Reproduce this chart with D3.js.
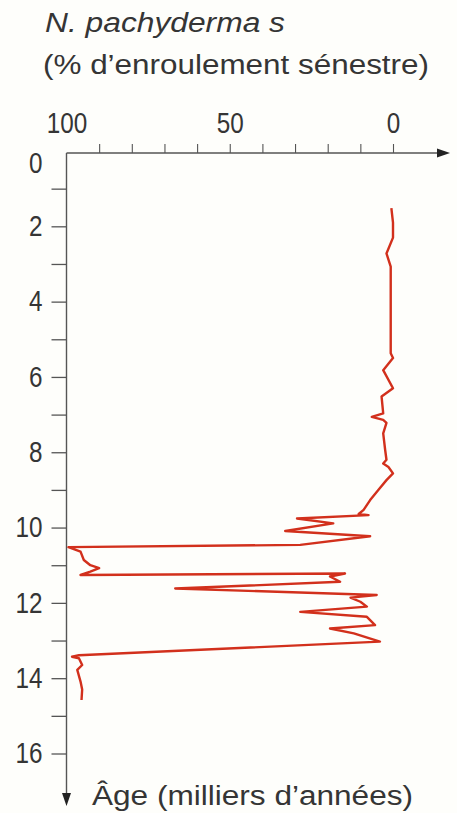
<!DOCTYPE html>
<html>
<head>
<meta charset="utf-8">
<script src="https://cdn.jsdelivr.net/npm/d3@7"></script>
<style>
  html, body { margin: 0; padding: 0; background: #fefefb; }
  svg { display: block; }
  text { font-family: "Liberation Sans Narrow", "Liberation Sans", Arial, sans-serif; fill: #353535; }
</style>
</head>
<body>
<div id="chart"></div>
<script>
// Age (thousands of years) of each sample down the core
const ages = [
  1.52, 1.90, 2.30, 2.72, 3.07, 5.37, 5.50, 5.82, 6.30, 6.52,
  6.97, 7.06, 7.14, 7.22, 7.50, 7.94, 8.20, 8.30, 8.39, 8.56,
  8.74, 9.00, 9.27, 9.53, 9.64, 9.67, 9.76, 9.89, 10.09, 10.23,
  10.46, 10.52, 10.64, 10.86, 11.00, 11.08, 11.17, 11.26, 11.22, 11.30,
  11.44, 11.62, 11.79, 11.86, 11.97, 12.10, 12.24, 12.37, 12.59, 12.68,
  12.81, 13.03, 13.39, 13.43, 13.47, 13.65, 13.78, 14.09, 14.30, 14.58
];
// N. pachyderma sinistral coiling (%) for each sample
const sinistralPct = [
  0.5, 0, 0, 2, 0.7, 0.7, 0, 3, 0, 3.5,
  3, 6.5, 3, 2, 3, 2.4, 2, 3, 1.4, 0,
  2, 4.5, 7, 9, 10.5, 7.5, 29.4, 18.3, 33, 7,
  28.4, 99.4, 95.7, 94.7, 92.7, 90, 92.7, 95.7, 14.7, 19.3,
  16.2, 66.7, 5, 13, 10, 8, 28.4, 8, 5.5, 19.3,
  12, 4, 96.2, 98.3, 96.2, 95.2, 96.7, 95.7, 95.2, 95.4
];
const pctTicks = [90, 80, 70, 60, 50, 40, 30, 20, 10, 0];
const pctLabels = [100, 50, 0];
const ageTicks = d3.range(0, 17);
const ageLabels = [0, 2, 4, 6, 8, 10, 12, 14, 16];

const W = 457, H = 813;
const svg = d3.select("#chart").append("svg").attr("width", W).attr("height", H);

const x = d3.scaleLinear().domain([100, 0]).range([66.5, 393]);
const y = d3.scaleLinear().domain([0, 16]).range([151, 753.5]);

const axisColor = "#555";
const digitW = 13.5; // condensed digit width for the tick labels

// Title
svg.append("text").attr("x", 45).attr("y", 32)
  .attr("font-size", 27).attr("font-style", "italic")
  .attr("textLength", 240).attr("lengthAdjust", "spacingAndGlyphs")
  .text("N. pachyderma s");
svg.append("text").attr("x", 43).attr("y", 74)
  .attr("font-size", 27)
  .attr("textLength", 386).attr("lengthAdjust", "spacingAndGlyphs")
  .text("(% d’enroulement sénestre)");

// Top axis (percent, reversed)
const axisY0 = 153;
const gx = svg.append("g").attr("transform", `translate(0,${axisY0})`)
  .call(d3.axisTop(x).tickValues(pctTicks.concat([100])).tickSize(9).tickPadding(11)
    .tickFormat(d => pctLabels.includes(d) ? d3.format("d")(d) : ""));
gx.select(".domain").remove();
gx.selectAll(".tick").filter(d => d === 100).select("line").remove();
gx.selectAll(".tick line").attr("stroke", axisColor).attr("stroke-width", 1.1);
gx.selectAll(".tick text").attr("font-size", 29).attr("fill", "#353535")
  .attr("font-family", null)
  .each(function () {
    const t = d3.select(this).text();
    if (t) d3.select(this).attr("textLength", digitW * t.length).attr("lengthAdjust", "spacingAndGlyphs");
  });
const arrowX = 450;
svg.append("line").attr("x1", x(100)).attr("x2", arrowX - 6)
  .attr("y1", axisY0).attr("y2", axisY0)
  .attr("stroke", axisColor).attr("stroke-width", 1.4);
svg.append("path")
  .attr("d", `M${arrowX},${axisY0} L${arrowX - 13},${axisY0 - 4.5} L${arrowX - 13},${axisY0 + 4.5} Z`)
  .attr("fill", "#222");

// Left axis (age, downward)
const gy = svg.append("g").attr("transform", `translate(${x(100)},0)`)
  .call(d3.axisLeft(y).tickValues(ageTicks).tickSize(15).tickPadding(9)
    .tickFormat(d => ageLabels.includes(d) ? d3.format("d")(d) : ""));
gy.select(".domain").remove();
gy.selectAll(".tick").filter(d => d === 0).select("line").remove();
gy.selectAll(".tick").filter(d => d === 0).select("text").attr("dy", "0.75em");
gy.selectAll(".tick line").attr("stroke", axisColor).attr("stroke-width", 1.3);
gy.selectAll(".tick text").attr("font-size", 29).attr("fill", "#353535")
  .attr("font-family", null)
  .each(function () {
    const t = d3.select(this).text();
    if (t) d3.select(this).attr("textLength", digitW * t.length).attr("lengthAdjust", "spacingAndGlyphs");
  });
const arrowY = 806;
svg.append("line").attr("x1", x(100)).attr("x2", x(100))
  .attr("y1", axisY0).attr("y2", arrowY - 6)
  .attr("stroke", axisColor).attr("stroke-width", 1.4);
svg.append("path")
  .attr("d", `M${x(100)},${arrowY} L${x(100) - 4.5},${arrowY - 13} L${x(100) + 4.5},${arrowY - 13} Z`)
  .attr("fill", "#222");

svg.append("text").attr("x", 92).attr("y", 805)
  .attr("font-size", 27)
  .attr("textLength", 321).attr("lengthAdjust", "spacingAndGlyphs")
  .text("Âge (milliers d’années)");

// Coiling record
const samples = ages.map((a, i) => ({ age: a, pct: sinistralPct[i] }));
const line = d3.line().x(d => x(d.pct)).y(d => y(d.age));
svg.append("path").datum(samples)
  .attr("d", line)
  .attr("fill", "none")
  .attr("stroke", "#d2301c")
  .attr("stroke-width", 2.4)
  .attr("stroke-linejoin", "round");
</script>
</body>
</html>
